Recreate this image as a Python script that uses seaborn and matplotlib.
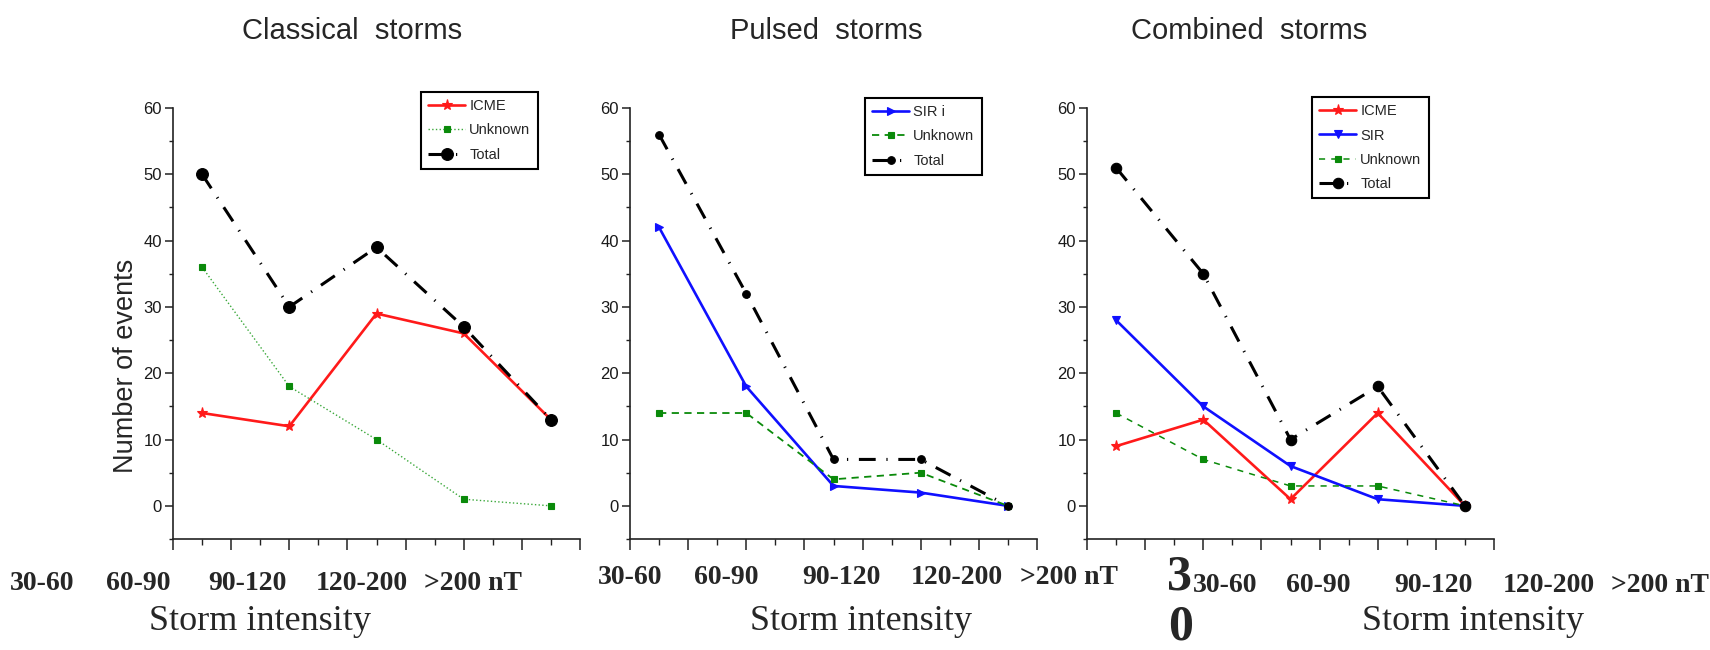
import numpy as np
import matplotlib
matplotlib.use("Agg")
import matplotlib.pyplot as plt
import seaborn as sns

# ---------------- data ----------------
categories = ["30-60", "60-90", "90-120", "120-200", ">200 nT"]
x_index = [1, 2, 3, 4, 5]

classical_icme = [14, 12, 29, 26, 13]
classical_unknown = [36, 18, 10, 1, 0]
classical_total = [50, 30, 39, 27, 13]

pulsed_sir = [42, 18, 3, 2, 0]
pulsed_unknown = [14, 14, 4, 5, 0]
pulsed_total = [56, 32, 7, 7, 0]

combined_icme = [9, 13, 1, 14, 0]
combined_sir = [28, 15, 6, 1, 0]
combined_unknown = [14, 7, 3, 3, 0]
combined_total = [51, 35, 10, 18, 0]

titles = ["Classical  storms", "Pulsed  storms", "Combined  storms"]
y_ticks = [0, 10, 20, 30, 40, 50, 60]
y_label = "Number of events"
x_label = "Storm intensity"

# ---------------- style ----------------
sns.set_style("ticks")
plt.rcParams["font.family"] = ["Liberation Sans", "DejaVu Sans"]

W, H = 1710, 650
fig = plt.figure(figsize=(W / 100, H / 100), dpi=100)


def px_axes(left, top, right, bottom):
    return [left / W, 1 - bottom / H, (right - left) / W, (bottom - top) / H]


ax1 = fig.add_axes(px_axes(173, 108, 580, 539))
ax2 = fig.add_axes(px_axes(630, 108, 1037, 539))
ax3 = fig.add_axes(px_axes(1087, 108, 1494, 539))

RED = "#ff1a1a"
BLUE = "#1010ff"
GREEN = "#0a8a0a"
TOTAL_DASH = (0, (5.5, 3.5, 0.4, 3.5))


def plot_series(ax, y, label, color, marker, ls, lw, ms, mfc=None):
    sns.lineplot(x=x_index, y=y, ax=ax, label=label, color=color,
                 marker=marker, linestyle=ls, linewidth=lw, markersize=ms,
                 markerfacecolor=mfc if mfc else color,
                 markeredgecolor=mfc if mfc else color, markeredgewidth=0.8)


# Panel 1: Classical
plot_series(ax1, classical_icme, "ICME", RED, "*", "-", 1.9, 8)
plot_series(ax1, classical_unknown, "Unknown", "#3aa83a", "s", ":", 1.0, 5, GREEN)
plot_series(ax1, classical_total, "Total", "black", "o", TOTAL_DASH, 2.2, 8.5)

# Panel 2: Pulsed
plot_series(ax2, pulsed_sir, "SIR i", BLUE, ">", "-", 1.9, 6)
plot_series(ax2, pulsed_unknown, "Unknown", GREEN, "s", (0, (4, 3)), 1.3, 5)
plot_series(ax2, pulsed_total, "Total", "black", "o", TOTAL_DASH, 2.2, 5.5)

# Panel 3: Combined
plot_series(ax3, combined_icme, "ICME", RED, "*", "-", 1.9, 8)
plot_series(ax3, combined_sir, "SIR", BLUE, "v", "-", 1.9, 6)
plot_series(ax3, combined_unknown, "Unknown", GREEN, "s", (0, (4, 4)), 1.1, 5)
plot_series(ax3, combined_total, "Total", "black", "o", TOTAL_DASH, 2.2, 7.5)

legend_pos = [(421, 92), (865, 98), (1312, 97)]

for ax, title, tx, (lx, ly) in zip([ax1, ax2, ax3], titles,
                                   [0.440, 0.482, 0.398], legend_pos):
    ax.set_xlim(2 / 3, 16 / 3)
    ax.set_ylim(-5, 60)
    ax.set_xticks(np.arange(1, 9) * 2 / 3)
    ax.set_xticks(np.arange(1, 8) * 2 / 3 + 1 / 3, minor=True)
    ax.set_yticks(y_ticks)
    ax.set_yticks([-5, 5, 15, 25, 35, 45, 55], minor=True)
    ax.set_xlabel("")
    ax.set_ylabel("")
    ax.tick_params(axis="x", which="major", length=8, width=1.1,
                   direction="out", labelbottom=False, color="#222222")
    ax.tick_params(axis="x", which="minor", length=4, width=1.0,
                   direction="out", color="#222222")
    ax.tick_params(axis="y", which="major", length=6, width=1.1,
                   direction="out", labelsize=12, pad=2, color="#222222",
                   labelcolor="#1a1a1a")
    ax.tick_params(axis="y", which="minor", length=3, width=1.0,
                   direction="out", color="#222222")
    sns.despine(ax=ax)
    for s in ("left", "bottom"):
        ax.spines[s].set_linewidth(1.2)
        ax.spines[s].set_color("#222222")
    ax.set_title(title, x=tx, y=1.16, va="center", fontsize=21)
    leg = ax.legend(loc="upper left", bbox_to_anchor=(lx / W, 1 - ly / H),
                    bbox_transform=fig.transFigure, borderaxespad=0,
                    frameon=True, fancybox=False, edgecolor="black",
                    framealpha=1, fontsize=10.5, handlelength=2.5,
                    handletextpad=0.3, labelspacing=0.7, borderpad=0.5)
    leg.get_frame().set_linewidth(1.5)

ax1.set_ylabel(y_label, fontsize=19.5, va="center")
ax1.yaxis.set_label_coords((126 - 173) / 407, (539 - 366) / 431)

# bottom category labels (placed as in the original figure)
label_x = [[42, 138, 247, 362, 473],
           [630, 726, 841, 957, 1069],
           [1225, 1318, 1433, 1549, 1660]]
label_y = [584, 578, 586]
xlabel_pos = [(260, 621), (861, 621), (1473, 622)]

serif = ["Liberation Serif", "DejaVu Serif"]
for xs, yy, (sx, sy) in zip(label_x, label_y, xlabel_pos):
    for cat, xx in zip(categories, xs):
        fig.text(xx / W, 1 - yy / H, cat, ha="center", va="center",
                 fontsize=20, fontweight="bold", family=serif)
    fig.text(sx / W, 1 - sy / H, x_label, ha="center", va="center",
             fontsize=26, family=serif)

fig.text(1179 / W, 1 - 578 / H, "3", ha="center", va="center",
         fontsize=36, fontweight="bold", family=serif)
fig.text(1181 / W, 1 - 628 / H, "0", ha="center", va="center",
         fontsize=36, fontweight="bold", family=serif)

fig.savefig("out.png", dpi=100)
